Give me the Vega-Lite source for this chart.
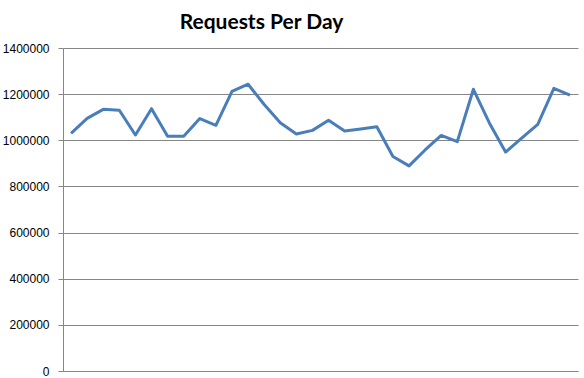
{
  "$schema": "https://vega.github.io/schema/vega-lite/v6.json",
  "width": 515,
  "height": 323,
  "autosize": {"type": "none"},
  "padding": {"left": 63, "top": 48, "right": 6, "bottom": 7},
  "background": "white",
  "title": {
    "text": "Requests Per Day",
    "font": "Lato",
    "fontSize": 21,
    "fontWeight": "bold",
    "color": "#000000",
    "anchor": "middle",
    "frame": "group",
    "dx": -59,
    "dy": 22,
    "baseline": "alphabetic",
    "offset": 14
  },
  "config": {
    "view": {"stroke": null},
    "axis": {"labelFont": "Liberation Sans", "labelFontSize": 12, "labelColor": "#000000"}
  },
  "data": {
    "values": [
      {"day": 1, "requests": 1030000},
      {"day": 2, "requests": 1095000},
      {"day": 3, "requests": 1134000},
      {"day": 4, "requests": 1130000},
      {"day": 5, "requests": 1023000},
      {"day": 6, "requests": 1137000},
      {"day": 7, "requests": 1017000},
      {"day": 8, "requests": 1017000},
      {"day": 9, "requests": 1094000},
      {"day": 10, "requests": 1065000},
      {"day": 11, "requests": 1212000},
      {"day": 12, "requests": 1243000},
      {"day": 13, "requests": 1155000},
      {"day": 14, "requests": 1076000},
      {"day": 15, "requests": 1027000},
      {"day": 16, "requests": 1043000},
      {"day": 17, "requests": 1087000},
      {"day": 18, "requests": 1040000},
      {"day": 19, "requests": 1049000},
      {"day": 20, "requests": 1059000},
      {"day": 21, "requests": 930000},
      {"day": 22, "requests": 889000},
      {"day": 23, "requests": 958000},
      {"day": 24, "requests": 1021000},
      {"day": 25, "requests": 994000},
      {"day": 26, "requests": 1221000},
      {"day": 27, "requests": 1074000},
      {"day": 28, "requests": 949000},
      {"day": 29, "requests": 1009000},
      {"day": 30, "requests": 1069000},
      {"day": 31, "requests": 1225000},
      {"day": 32, "requests": 1196000}
    ]
  },
  "mark": {"type": "line", "color": "#4A7EBB", "strokeWidth": 3, "strokeJoin": "round"},
  "encoding": {
    "x": {
      "field": "day",
      "type": "ordinal",
      "scale": {"type": "point", "padding": 0.5},
      "axis": {"title": null, "labels": false, "ticks": false, "domain": true, "domainColor": "#868686", "domainWidth": 1, "grid": false}
    },
    "y": {
      "field": "requests",
      "type": "quantitative",
      "scale": {"domain": [0, 1400000], "nice": false},
      "axis": {
        "title": null,
        "values": [0, 200000, 400000, 600000, 800000, 1000000, 1200000, 1400000],
        "format": "d",
        "grid": true,
        "gridColor": "#868686",
        "gridWidth": 1,
        "domainColor": "#868686",
        "tickColor": "#868686",
        "tickSize": 5,
        "labelPadding": 9
      }
    }
  }
}
